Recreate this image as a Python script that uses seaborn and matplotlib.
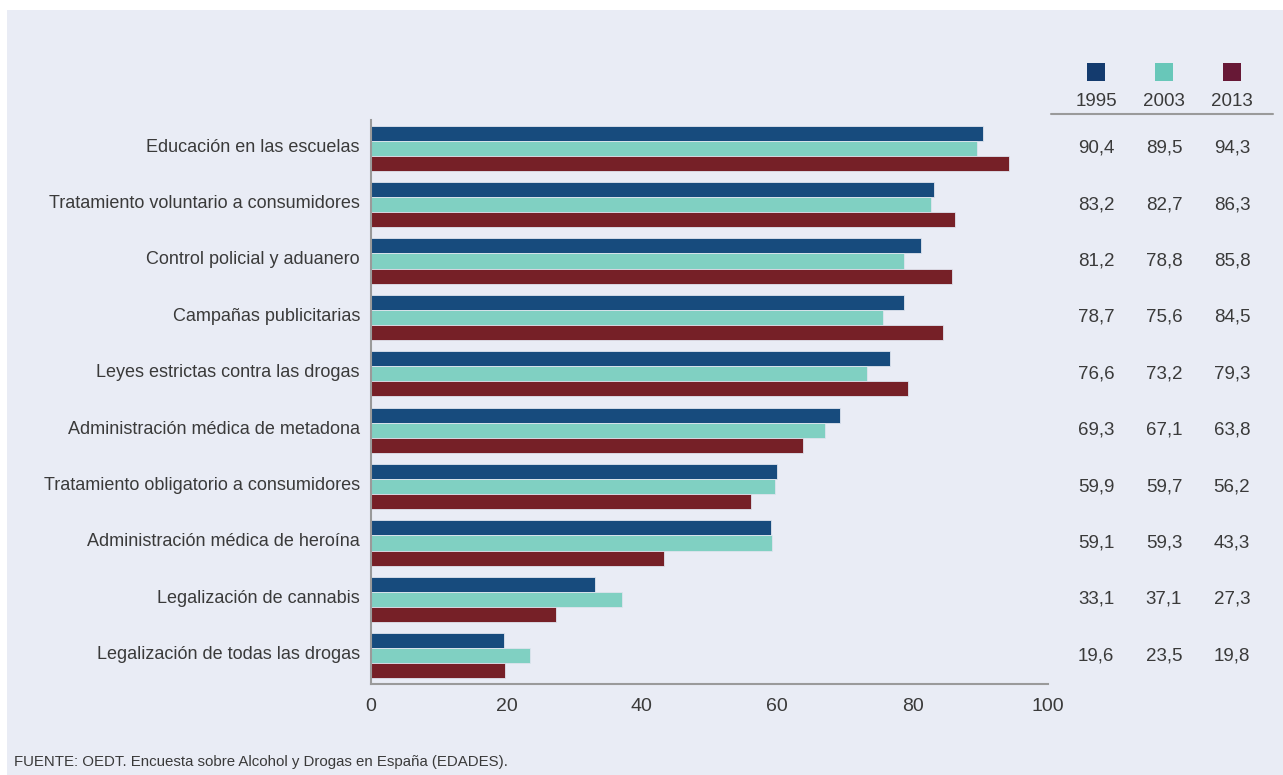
import matplotlib
matplotlib.use("Agg")
import matplotlib.pyplot as plt
import matplotlib.transforms as mtransforms
from matplotlib.patches import Rectangle
import seaborn as sns
import pandas as pd

categories = [
    "Educación en las escuelas",
    "Tratamiento voluntario a consumidores",
    "Control policial y aduanero",
    "Campañas publicitarias",
    "Leyes estrictas contra las drogas",
    "Administración médica de metadona",
    "Tratamiento obligatorio a consumidores",
    "Administración médica de heroína",
    "Legalización de cannabis",
    "Legalización de todas las drogas",
]
years = ["1995", "2003", "2013"]
v1995 = [90.4, 83.2, 81.2, 78.7, 76.6, 69.3, 59.9, 59.1, 33.1, 19.6]
v2003 = [89.5, 82.7, 78.8, 75.6, 73.2, 67.1, 59.7, 59.3, 37.1, 23.5]
v2013 = [94.3, 86.3, 85.8, 84.5, 79.3, 63.8, 56.2, 43.3, 27.3, 19.8]
xticks = [0, 20, 40, 60, 80, 100]
source = "FUENTE: OEDT. Encuesta sobre Alcohol y Drogas en España (EDADES)."

series = {"1995": v1995, "2003": v2003, "2013": v2013}
rows = []
for y in years:
    for c, v in zip(categories, series[y]):
        rows.append({"cat": c, "year": y, "val": v})
df = pd.DataFrame(rows)

bar_colors = ["#174b7d", "#80d0c2", "#762027"]
legend_colors = ["#143b6e", "#68c7b9", "#671836"]
panel = "#e9ecf5"
text_c = "#3a3a3a"

sns.set_theme(style="white")
plt.rcParams["font.family"] = ["Liberation Sans", "DejaVu Sans"]

fig = plt.figure(figsize=(12.83, 7.75), dpi=100, facecolor="white")
fig.patches.append(Rectangle((7 / 1283, 0), 1 - 7 / 1283, 1 - 10 / 775,
                             transform=fig.transFigure, facecolor=panel,
                             edgecolor="none", zorder=-10))
ax = fig.add_axes([371 / 1283, 1 - 684 / 775, (1048 - 371) / 1283, (684 - 120) / 775])
ax.set_facecolor(panel)

sns.barplot(data=df, y="cat", x="val", hue="year", hue_order=years,
            order=categories, palette=bar_colors, orient="h", width=0.8,
            saturation=1, edgecolor="#dfe4ee", linewidth=0.6, ax=ax, legend=False)

ax.set_xlim(0, 100)
ax.set_ylim(9.5, -0.5)
ax.set_xticks(xticks)
ax.set_xticklabels([str(t) for t in xticks], fontsize=14, color=text_c)
ax.tick_params(axis="y", labelsize=13, labelcolor=text_c, length=0, pad=8)
ax.tick_params(axis="x", length=0, pad=10)
ax.set_xlabel("")
ax.set_ylabel("")
shift = mtransforms.ScaledTranslation(0, 3 / 100, fig.dpi_scale_trans)
for lab in ax.get_yticklabels():
    lab.set_transform(lab.get_transform() + shift)
for s in ["top", "right"]:
    ax.spines[s].set_visible(False)
for s in ["left", "bottom"]:
    ax.spines[s].set_color("#9a9a9a")
    ax.spines[s].set_linewidth(1.5)

# table on the right
col_x = [1096 / 1283, 1164 / 1283, 1232 / 1283]
sq = 18
for x, col, y in zip(col_x, legend_colors, years):
    fig.patches.append(Rectangle((x - sq / 2 / 1283, 1 - 81 / 775), sq / 1283, sq / 775,
                                 transform=fig.transFigure, facecolor=col,
                                 edgecolor="none"))
    fig.text(x, 1 - 101 / 775, y, ha="center", va="center", fontsize=13.5, color=text_c)
fig.add_artist(plt.Line2D([1051 / 1283, 1273 / 1283], [1 - 114 / 775, 1 - 114 / 775],
                          transform=fig.transFigure, color="#9a9a9a", linewidth=1.5))

trans = mtransforms.blended_transform_factory(fig.transFigure, ax.transData)
for x, y in zip(col_x, years):
    for i, v in enumerate(series[y]):
        ax.text(x, i, f"{v:.1f}".replace(".", ","), transform=trans, ha="center",
                va="center", fontsize=13.5, color=text_c, clip_on=False)

fig.text(14 / 1283, 1 - 762 / 775, source, ha="left", va="center", fontsize=10.8,
         color=text_c)

fig.savefig("out.png", dpi=100, facecolor="white")
